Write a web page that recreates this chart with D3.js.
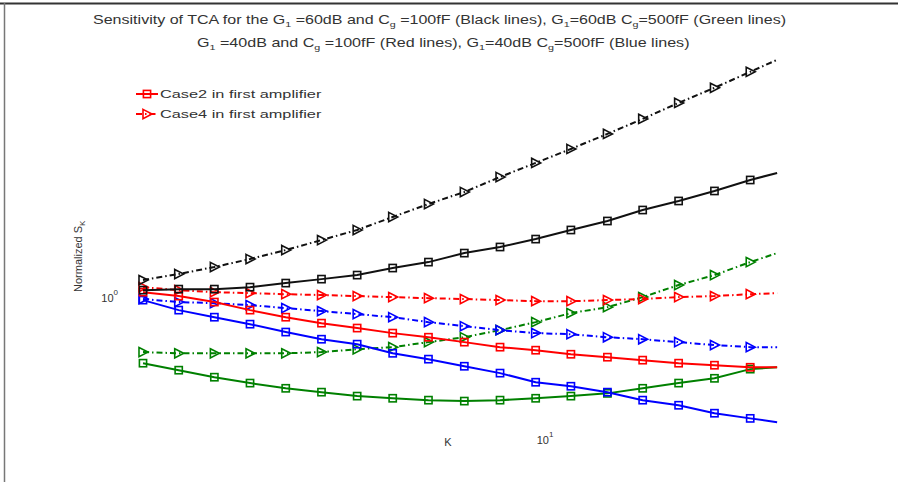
<!DOCTYPE html>
<html><head><meta charset="utf-8">
<script src="https://cdn.jsdelivr.net/npm/d3@7"></script>
<style>body{margin:0;background:#fff} svg{display:block} text{font-family:"Liberation Sans",Arial,sans-serif}</style>
</head><body><svg id="c" width="898" height="482"></svg>
<script>
// ---- data ----
const K = [1, 1.227, 1.505, 1.846, 2.265, 2.78, 3.41, 4.18, 5.13, 6.30, 7.73, 9.48, 11.6, 14.3, 17.5, 21.5, 26.4, 32.4, 37.8];
const blackCase2 = [1.041,1.047,1.047,1.059,1.084,1.109,1.135,1.182,1.223,1.288,1.334,1.396,1.471,1.549,1.650,1.738,1.841,1.961,2.042];
const blackCase4 = [1.103,1.142,1.189,1.245,1.311,1.388,1.471,1.585,1.708,1.830,1.995,2.163,2.344,2.556,2.786,3.055,3.331,3.652,3.913];
const greenCase2 = [0.684,0.657,0.631,0.610,0.592,0.579,0.566,0.559,0.553,0.550,0.553,0.559,0.566,0.575,0.592,0.610,0.627,0.661,0.668];
const greenCase4 = [0.729,0.724,0.724,0.724,0.724,0.729,0.741,0.750,0.772,0.794,0.827,0.866,0.912,0.944,1.000,1.072,1.135,1.223,1.288];
const redCase2   = [1.029,1.006,0.972,0.928,0.891,0.861,0.837,0.813,0.794,0.772,0.750,0.737,0.720,0.708,0.696,0.684,0.676,0.668,0.668];
const redCase4   = [1.059,1.041,1.029,1.023,1.017,1.012,1.006,1.000,0.994,0.989,0.983,0.977,0.977,0.983,0.989,1.000,1.006,1.017,1.023];
const blueCase2  = [0.983,0.928,0.891,0.856,0.818,0.785,0.763,0.724,0.700,0.672,0.646,0.613,0.599,0.579,0.553,0.537,0.513,0.498,0.487];
const blueCase4  = [0.989,0.972,0.966,0.955,0.939,0.923,0.907,0.891,0.866,0.846,0.827,0.813,0.808,0.794,0.785,0.772,0.759,0.750,0.750];
const xTicks = [10];
const yTicks = [1];
const legendLabels = ["Case2 in first amplifier", "Case4 in first amplifier"];
const titleLine1 = [["Sensitivity of TCA for the G",0],["1",1],[" =60dB and C",0],["g",1],[" =100fF (Black lines), G",0],["1",1],["=60dB C",0],["g",1],["=500fF (Green lines)",0]];
const titleLine2 = [["G",0],["1",1],[" =40dB and C",0],["g",1],[" =100fF (Red lines), G",0],["1",1],["=40dB C",0],["g",1],["=500fF (Blue lines)",0]];

const series = [
  {v: greenCase2, c:"#008000", dash:null, m:"s"},
  {v: greenCase4, c:"#008000", dash:"6,3,1.5,3", m:"t"},
  {v: blueCase2,  c:"#0000ff", dash:null, m:"s"},
  {v: blueCase4,  c:"#0000ff", dash:"6,3,1.5,3", m:"t"},
  {v: redCase2,   c:"#ff0000", dash:null, m:"s"},
  {v: redCase4,   c:"#ff0000", dash:"6,3,1.5,3", m:"t"},
  {v: blackCase2, c:"#111111", dash:null, m:"s"},
  {v: blackCase4, c:"#111111", dash:"6,3,1.5,3", m:"t"}
];

const svg = d3.select("#c");
svg.append("rect").attr("width",898).attr("height",482).attr("fill","#fff");
// frame
svg.append("line").attr("x1",0).attr("x2",898).attr("y1",3.5).attr("y2",3.5).attr("stroke","#333").attr("stroke-width",2);
svg.append("line").attr("x1",4.5).attr("x2",4.5).attr("y1",3).attr("y2",482).attr("stroke","#777").attr("stroke-width",1.5);

const x = d3.scaleLog().domain([1,40]).range([143,787]);
const y = d3.scaleLog().domain([0.45,4]).range([436,56]);

const line = d3.line().x((d,i)=>x(K[i])).y(d=>y(d));

function marker(g, type, color, cx, cy){
  if(type==="s"){
    g.append("rect").attr("x",cx-3.6).attr("y",cy-3.6).attr("width",7.2).attr("height",7.2)
      .attr("fill","none").attr("stroke",color).attr("stroke-width",1.6);
  } else {
    g.append("path").attr("d",`M${cx-4},${cy-4.6}L${cx+5},${cy}L${cx-4},${cy+4.6}Z`)
      .attr("fill","none").attr("stroke",color).attr("stroke-width",1.6);
  }
}

const plot = svg.append("g");
series.forEach(s=>{
  plot.append("path").datum(s.v).attr("d",line).attr("fill","none")
    .attr("stroke",s.c).attr("stroke-width",2).attr("stroke-dasharray",s.dash);
  const g = plot.append("g");
  s.v.forEach((d,i)=>{ if(i < s.v.length-1) marker(g, s.m, s.c, x(K[i]), y(d)); });
});

// ticks
xTicks.forEach(t=>{
  const tx = svg.append("text").attr("x",x(t)).attr("y",444).attr("text-anchor","middle")
    .attr("font-size",11).attr("fill","#333");
  tx.append("tspan").text("10");
  tx.append("tspan").attr("dy",-7).attr("font-size",8).text(Math.round(Math.log10(t)));
});
yTicks.forEach(t=>{
  const ty = svg.append("text").attr("x",118).attr("y",y(t)+5).attr("text-anchor","end")
    .attr("font-size",11).attr("fill","#333");
  ty.append("tspan").text("10");
  ty.append("tspan").attr("dy",-7).attr("font-size",8).text(Math.round(Math.log10(t)));
});

// axis labels
svg.append("text").attr("x",448).attr("y",446).attr("text-anchor","middle").attr("font-size",11).attr("fill","#333").text("K");
const yl = svg.append("text").attr("transform","translate(82,292) rotate(-90)").attr("font-size",11).attr("fill","#333");
yl.append("tspan").text("Normalized S");
yl.append("tspan").attr("dy",3).attr("font-size",8).text("K");

// title
function fitText(parts, cx, baseline, targetW){
  const t = svg.append("text").attr("font-size",12).attr("fill","#333").attr("text-anchor","start");
  parts.forEach((p,i)=>{
    const ts = t.append("tspan").text(p[0]);
    if(p[1]) ts.attr("dy",3).attr("font-size",8);
    else if(i>0 && parts[i-1][1]) ts.attr("dy",-3);
  });
  const w = t.node().getBBox().width;
  const k = targetW / w;
  t.attr("transform",`translate(${cx - targetW/2},${baseline}) scale(${k},1)`);
  return t;
}
fitText(titleLine1, 440, 24, 694);
fitText(titleLine2, 443.5, 47, 493);

// legend
const legColors = ["#ff0000","#ff0000"], legMarkers=["s","t"], legDash=[null,"6,3,1.5,3"];
legendLabels.forEach((lab,i)=>{
  const ly = 94 + i*20;
  svg.append("line").attr("x1",136).attr("x2",158).attr("y1",ly).attr("y2",ly)
    .attr("stroke",legColors[i]).attr("stroke-width",2).attr("stroke-dasharray",legDash[i]);
  marker(svg, legMarkers[i], legColors[i], 147, ly);
  const t = svg.append("text").attr("font-size",11).attr("fill","#333").text(lab);
  const w = t.node().getBBox().width;
  t.attr("transform",`translate(160,${ly+4}) scale(${162/w},1)`);
});
</script></body></html>
